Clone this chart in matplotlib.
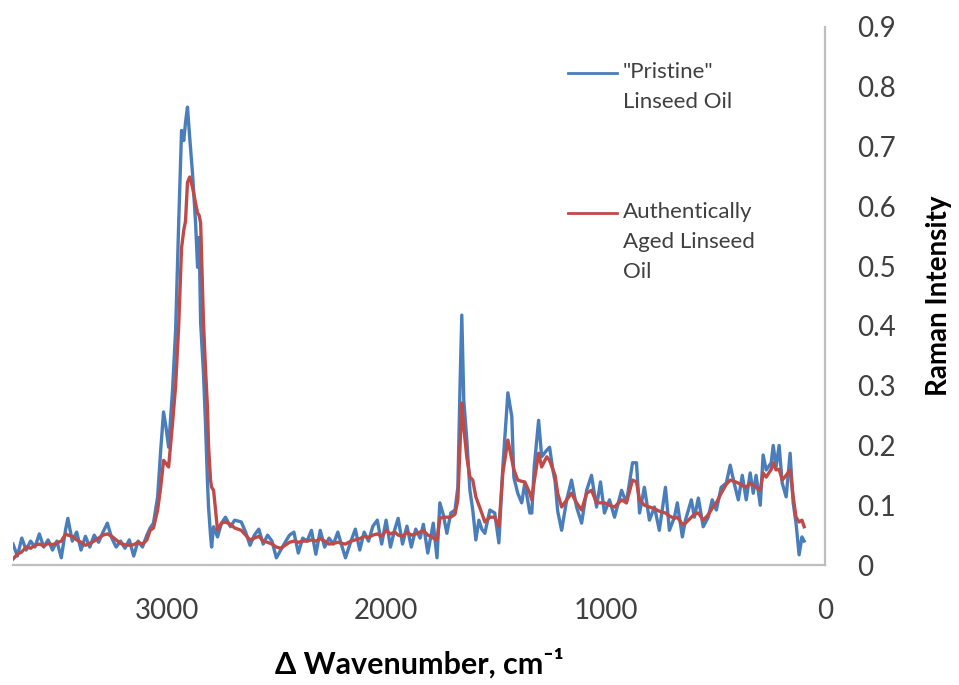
import matplotlib
matplotlib.use('Agg')
import matplotlib.pyplot as plt
from matplotlib.lines import Line2D

plt.rcParams['font.family'] = ['Lato', 'DejaVu Sans']

# wavenumber grid (cm-1)
wavenumber = [
    3700, 3680, 3660, 3640, 3620, 3600, 3580, 3560, 3540, 3520, 3500, 3480, 3460, 3450, 3430, 3410, 3390,
    3370, 3350, 3330, 3310, 3290, 3270, 3250, 3230, 3210, 3190, 3170, 3150, 3130, 3110, 3090, 3075, 3060,
    3041, 3027, 3014, 3003, 2991, 2973, 2959, 2945, 2932, 2922, 2914, 2905, 2895, 2882, 2868, 2859, 2852,
    2845, 2832, 2823, 2814, 2809, 2800, 2795, 2786, 2768, 2750, 2732, 2709, 2690,
    2660, 2640, 2620, 2600, 2580, 2560, 2540, 2520, 2500, 2480, 2460, 2440, 2420, 2400, 2380, 2360, 2340,
    2320, 2300, 2280, 2260, 2240, 2220, 2200, 2185, 2160, 2140, 2120, 2100, 2080, 2060, 2040, 2020, 2000,
    1980, 1960, 1945, 1925, 1905, 1885, 1865, 1845, 1830, 1810, 1795, 1785, 1768,
    1755, 1740, 1723, 1705, 1686, 1673, 1663, 1655, 1646, 1632, 1618, 1605, 1591, 1577, 1564, 1550, 1527,
    1505, 1486, 1468, 1445, 1427, 1418, 1400, 1382, 1368, 1345, 1336, 1325, 1305, 1291, 1268, 1255, 1240,
    1230, 1218, 1200,
    1177, 1155, 1132, 1109, 1086, 1064, 1041, 1023, 1005, 982, 959, 927, 905, 877, 859, 845, 823, 800,
    777, 755, 727, 709, 686, 673, 650,
    636, 609, 595, 577, 555, 532, 514, 495, 473, 450, 432, 414, 395, 377, 359, 341, 327, 314, 295, 282,
    268, 245, 236, 223, 209, 195, 177, 159, 145, 132, 118, 105, 95,
]

# "Pristine" linseed oil
pristine = [
    .035, .015, .045, .025, .040, .030, .052, .030, .042, .025, .040, .012, .060, .078, .040, .055, .025,
    .048, .030, .050, .038, .055, .070, .045, .030, .040, .028, .042, .015, .040, .030, .050, .062, .070,
    .114, .192, .256, .231, .197, .293, .393, .572, .727, .710, .740, .766, .716, .655, .572, .498, .548,
    .405, .320, .237, .140, .097, .050, .030, .064, .047, .070, .080, .064, .075,
    .072, .055, .033, .050, .060, .035, .050, .040, .012, .025, .038, .050, .055, .020, .045, .040, .058,
    .018, .058, .030, .045, .035, .055, .030, .012, .040, .060, .025, .055, .040, .065, .075, .035, .075,
    .030, .060, .078, .035, .065, .030, .060, .045, .068, .020, .050, .070, .012,
    .104, .085, .053, .087, .092, .130, .300, .418, .276, .209, .125, .092, .042, .075, .060, .053, .092,
    .087, .037, .164, .288, .248, .147, .120, .104, .137, .087, .087, .164, .242, .181, .192, .197, .159,
    .140, .090, .058,
    .109, .142, .097, .070, .125, .150, .097, .139, .087, .109, .080, .125, .104, .171, .171, .087, .130, .075,
    .097, .058, .130, .058, .080, .104, .047,
    .075, .109, .080, .112, .064, .080, .109, .092, .130, .137, .167, .137, .109, .150, .109, .154, .120, .150,
    .100, .184, .159, .171, .200, .164, .200, .137, .114, .187, .104, .070, .017, .047, .040,
]

# authentically aged linseed oil
aged = [
    .010, .018, .022, .030, .028, .033, .035, .032, .036, .034, .037, .040, .052, .050, .048, .042, .038,
    .033, .036, .040, .045, .050, .052, .048, .042, .036, .034, .033, .034, .038, .035, .042, .058, .062,
    .092, .130, .175, .170, .164, .237, .300, .400, .530, .560, .575, .640, .649, .632, .605, .589, .585,
    .572, .405, .330, .264, .200, .142, .130, .125, .058, .070, .072, .068, .062,
    .058, .050, .042, .045, .048, .040, .038, .035, .030, .028, .033, .038, .040, .038, .040, .040, .042,
    .040, .044, .040, .035, .036, .038, .036, .035, .040, .042, .044, .048, .046, .050, .052, .048, .058,
    .052, .055, .050, .048, .055, .050, .052, .055, .058, .050, .048, .045, .042,
    .078, .080, .080, .080, .085, .109, .200, .271, .230, .180, .147, .142, .114, .100, .087, .072, .080,
    .080, .064, .154, .209, .176, .160, .142, .140, .139, .120, .109, .140, .187, .164, .181, .175, .160,
    .150, .120, .097,
    .109, .120, .104, .092, .120, .125, .104, .104, .104, .100, .097, .109, .104, .142, .139, .109, .100, .097,
    .094, .090, .087, .082, .078, .080, .068,
    .070, .080, .085, .087, .075, .084, .095, .104, .120, .135, .142, .140, .137, .133, .130, .137, .133, .130,
    .125, .154, .147, .160, .171, .159, .160, .142, .150, .159, .114, .080, .072, .075, .064,
]

x_ticks = [3000, 2000, 1000, 0]
y_ticks = [0, 0.1, 0.2, 0.3, 0.4, 0.5, 0.6, 0.7, 0.8, 0.9]
y_labels = ['0', '0.1', '0.2', '0.3', '0.4', '0.5', '0.6', '0.7', '0.8', '0.9']
series_names = ['"Pristine"\nLinseed Oil', 'Authentically\nAged Linseed\nOil']
colors = ['#4A7EBB', '#BE4B48']

W, H = 959, 685
fig = plt.figure(figsize=(W / 100, H / 100), dpi=100)
ax = fig.add_axes([13 / W, 1 - 565 / H, (825 - 13) / W, (565 - 27) / H])

ax.plot(wavenumber, pristine, color=colors[0], lw=2.4)
ax.plot(wavenumber, aged, color=colors[1], lw=2.4)

ax.set_xlim(3700, 0)
ax.set_ylim(0, 0.9)
ax.set_xticks(x_ticks)
ax.set_xticklabels([str(t) for t in x_ticks])
ax.yaxis.tick_right()
ax.set_yticks(y_ticks)
ax.set_yticklabels(y_labels)
ax.tick_params(axis='both', length=0, labelsize=20, labelcolor='#404040')
ax.tick_params(axis='x', pad=24)
ax.tick_params(axis='y', pad=23)

for s in ['top', 'left']:
    ax.spines[s].set_visible(False)
for s in ['right', 'bottom']:
    ax.spines[s].set_color('#BFBFBF')
    ax.spines[s].set_linewidth(1.6)

ax.set_xlabel('\u0394 Wavenumber, cm\u207b\u00b9', fontsize=22, fontweight='bold', labelpad=17)
ax.yaxis.set_label_position('right')
ax.set_ylabel('Raman Intensity', fontsize=20, fontweight='bold', labelpad=22)

# legend drawn like the Excel one: handle next to the first text line
for i, (name, col) in enumerate(zip(series_names, colors)):
    y = 1 - (73 + 140 * i) / H
    fig.add_artist(Line2D([568 / W, 617 / W], [y, y], color=col, lw=2, transform=fig.transFigure))
    fig.text(623 / W, y + 11 / H, name, fontsize=16, color='#404040', va='top', ha='left', linespacing=1.62)

fig.savefig('out.png', dpi=100)
